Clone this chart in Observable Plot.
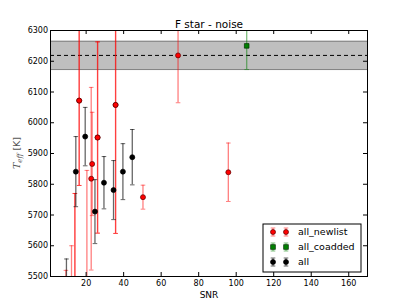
<!DOCTYPE html>
<html><head><meta charset="utf-8">
<script src="https://cdn.jsdelivr.net/npm/d3@7"></script>
<script src="https://cdn.jsdelivr.net/npm/@observablehq/plot@0.6"></script>
<style>body{margin:0;background:#fff} svg{display:block}</style>
</head><body><div id="chart"></div>
<script>
const title = "F star - noise";
const xLabel = "SNR";
const xTicks = [20, 40, 60, 80, 100, 120, 140, 160];
const yTicks = [5500, 5600, 5700, 5800, 5900, 6000, 6100, 6200, 6300];

// all_newlist (some measurements appear twice)
const newlistSNR  = [16.3, 16.3, 26.1, 26.1, 35.7, 35.7, 14.0, 14.0, 69.0, 95.8, 50.3, 22.7, 23.2, 12.2, 9.2, 20.4];
const newlistTeff = [6072, 6072, 5952, 5952, 6058, 6058, 5400, 5400, 6219, 5839, 5758, 5818, 5866, 5400, 5440, 5450];
const newlistErr  = [276, 276, 311, 311, 418, 418, 370, 370, 154, 95, 39, 297, 168, 200, 80, 395];

// all_coadded
const coaddedSNR  = [105.6];
const coaddedTeff = [6250];
const coaddedErr  = [77];

// all
const allSNR  = [9.5, 14.5, 19.5, 24.7, 29.5, 34.6, 39.6, 44.6];
const allTeff = [5450, 5841, 5955, 5711, 5805, 5781, 5841, 5888];
const allErr  = [107, 114, 95, 104, 85, 96, 91, 90];

// reference band
const bandLow = 6173, bandHigh = 6265, bandMid = 6219;

const legendLabels = ["all_newlist", "all_coadded", "all"];

const toRows = (xs, ys, es) => xs.map((x, i) => ({x, y: ys[i], lo: ys[i] - es[i], hi: ys[i] + es[i]}));
const newlist = toRows(newlistSNR, newlistTeff, newlistErr);
const coadded = toRows(coaddedSNR, coaddedTeff, coaddedErr);
const all = toRows(allSNR, allTeff, allErr);

const W = 407, H = 307, mL = 50, mR = 40, mT = 30, mB = 31;
const pw = W - mL - mR, ph = H - mT - mB;

const cap = {draw(ctx) { ctx.moveTo(-2.3, 0); ctx.lineTo(2.3, 0); }};

function errMarks(rows, color, op) {
  return [
    Plot.ruleX(rows, {x: "x", y1: "lo", y2: "hi", stroke: color, strokeOpacity: op, strokeWidth: 1.3, clip: true}),
    Plot.dot(rows, {x: "x", y: "lo", symbol: cap, stroke: color, strokeOpacity: op, fill: "none", strokeWidth: 1, clip: true}),
    Plot.dot(rows, {x: "x", y: "hi", symbol: cap, stroke: color, strokeOpacity: op, fill: "none", strokeWidth: 1, clip: true})
  ];
}

const chart = Plot.plot({
  width: W, height: H,
  marginLeft: mL, marginRight: mR, marginTop: mT, marginBottom: mB,
  style: {fontFamily: "DejaVu Sans", fontSize: "8px", background: "#fff", color: "#000"},
  x: {domain: [1, 170], label: null},
  y: {domain: [5500, 6300], label: null},
  marks: [
    Plot.rectY([0], {y1: bandLow, y2: bandHigh, fill: "#bfbfbf"}),
    Plot.ruleY([bandLow, bandHigh], {stroke: "#7f7f7f", strokeWidth: 1}),
    Plot.ruleY([bandMid], {stroke: "#000", strokeDasharray: "4,3", strokeWidth: 1}),
    ...errMarks(newlist, "#ff0000", 0.5),
    Plot.dot(newlist, {x: "x", y: "y", r: 2.5, fill: "#ff0000", stroke: "#5a0000", strokeWidth: 0.7, clip: true}),
    ...errMarks(coadded, "#008000", 0.5),
    Plot.dot(coadded, {x: "x", y: "y", symbol: "square", r: 2.6, fill: "#008000", stroke: "#003000", strokeWidth: 0.7, clip: true}),
    ...errMarks(all, "#000000", 0.6),
    Plot.dot(all, {x: "x", y: "y", r: 2.5, fill: "#000", stroke: "#000", strokeWidth: 0.7, clip: true}),
    Plot.tickX(xTicks, {x: d => d, insetTop: ph - 4, stroke: "#000"}),
    Plot.tickX(xTicks, {x: d => d, insetBottom: ph - 4, stroke: "#000"}),
    Plot.tickY(yTicks, {y: d => d, insetRight: pw - 4, stroke: "#000"}),
    Plot.tickY(yTicks, {y: d => d, insetLeft: pw - 4, stroke: "#000"}),
    Plot.axisX(xTicks, {tickSize: 0, tickPadding: 4, fontSize: 8, label: null, tickFormat: d3.format("d")}),
    Plot.axisY(yTicks, {tickSize: 0, tickPadding: 2.5, fontSize: 8, label: null, tickFormat: d3.format("d")}),
    Plot.frame({stroke: "#000", strokeWidth: 1}),
    Plot.text([title], {frameAnchor: "top", dy: -3, lineAnchor: "bottom", fontSize: 10.5, text: d => d}),
    Plot.text([xLabel], {frameAnchor: "bottom", dy: 21, lineAnchor: "bottom", fontSize: 9, text: d => d})
  ]
});

document.getElementById("chart").appendChild(chart);
const svg = d3.select(chart);

// y-axis label with math-style subscript
const yl = svg.append("text")
  .attr("transform", `translate(20,${mT + ph / 2}) rotate(-90)`)
  .attr("text-anchor", "middle")
  .attr("fill", "#555")
  .attr("font-size", 9.5);
yl.append("tspan").attr("font-family", "DejaVu Serif").attr("font-style", "italic").text("T");
yl.append("tspan").attr("font-family", "DejaVu Serif").attr("font-style", "italic").attr("font-size", 7).attr("dy", 2).text("eff");
yl.append("tspan").attr("font-family", "DejaVu Sans").attr("dy", -2).text(" [K]");

// legend
const lg = svg.append("g").attr("transform", "translate(263,224)");
lg.append("rect").attr("width", 98).attr("height", 48).attr("fill", "#fff").attr("stroke", "#000").attr("stroke-width", 1);
const styles = [
  {fill: "#ff0000", stroke: "#5a0000", err: "#ff0000", op: 0.5, shape: "circle"},
  {fill: "#008000", stroke: "#003000", err: "#008000", op: 0.5, shape: "square"},
  {fill: "#000", stroke: "#000", err: "#000", op: 0.6, shape: "circle"}
];
legendLabels.forEach((lab, i) => {
  const cy = 8 + i * 15;
  const s = styles[i];
  [10, 23].forEach(cx => {
    const g = lg.append("g").attr("stroke", s.err).attr("stroke-opacity", s.op);
    g.append("line").attr("x1", cx).attr("x2", cx).attr("y1", cy - 4).attr("y2", cy + 4);
    g.append("line").attr("x1", cx - 2.3).attr("x2", cx + 2.3).attr("y1", cy - 4).attr("y2", cy - 4);
    g.append("line").attr("x1", cx - 2.3).attr("x2", cx + 2.3).attr("y1", cy + 4).attr("y2", cy + 4);
    if (s.shape === "circle") {
      lg.append("circle").attr("cx", cx).attr("cy", cy).attr("r", 2.5).attr("fill", s.fill).attr("stroke", s.stroke).attr("stroke-width", 0.7);
    } else {
      lg.append("rect").attr("x", cx - 2.3).attr("y", cy - 2.3).attr("width", 4.6).attr("height", 4.6).attr("fill", s.fill).attr("stroke", s.stroke).attr("stroke-width", 0.7);
    }
  });
  lg.append("text").attr("x", 35).attr("y", cy).attr("dy", "0.35em").attr("text-anchor", "start")
    .attr("font-family", "DejaVu Sans").attr("font-size", 9.5).text(lab);
});
</script>
</body></html>
